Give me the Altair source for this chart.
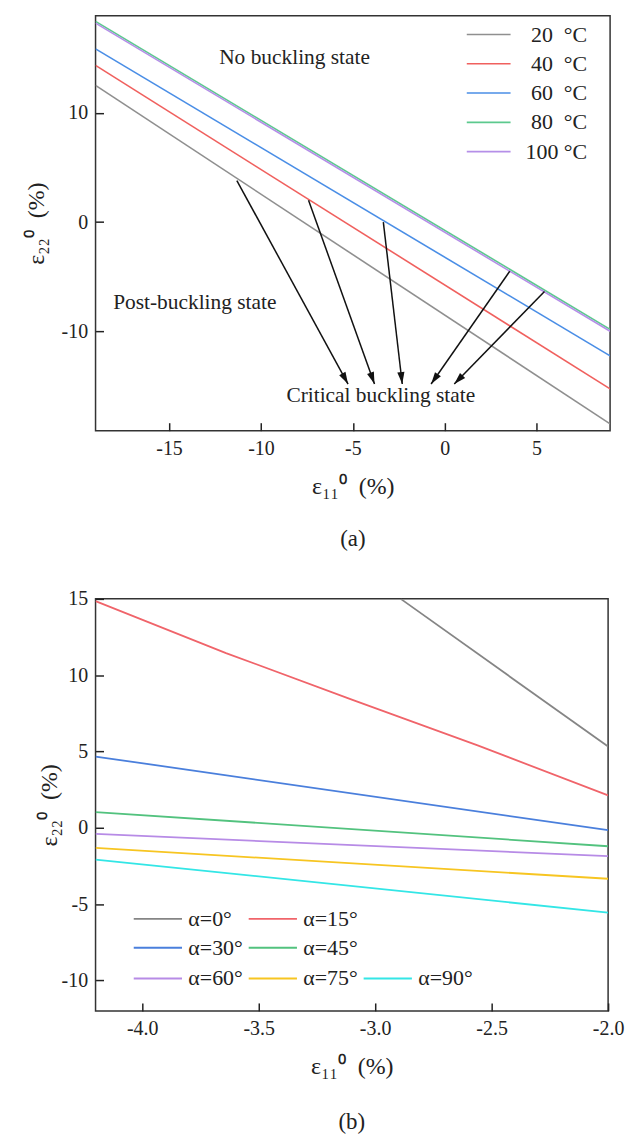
import math
import altair as alt
import pandas as pd

FONT = "Liberation Serif"
INK = "#222222"

# ---------------- panel (a): temperature ----------------
temp_labels = ["20\u00a0\u00a0°C", "40\u00a0\u00a0°C", "60\u00a0\u00a0°C", "80\u00a0\u00a0°C", "100\u00a0°C"]
temp_colors = ["#8f8f8f", "#f0605e", "#4a8ee6", "#5cc98e", "#b58fe8"]
eps11_a = [-19.0, 9.0]
eps22_t20 = [12.52, -18.48]
eps22_t40 = [14.34, -15.28]
eps22_t60 = [15.86, -12.25]
eps22_t80 = [18.38, -9.82]
eps22_t100 = [18.22, -10.0]

# arrows from each curve to the "critical" label
arrow_x0 = [-11.31, -7.41, -3.34, 3.54, 5.43]
arrow_y0 = [3.8, 2.0, 0.0, -4.5, -6.35]
arrow_x1 = [-5.26, -3.82, -2.31, -0.74, 0.52]
arrow_y1 = [-14.83, -14.83, -14.83, -14.83, -14.83]

state_text = ["No buckling state", "Post-buckling state", "Critical buckling state"]
state_x = [-8.17, -13.6, -3.48]
state_y = [14.98, -7.38, -15.9]

XA_DOM = [-19.0, 9.0]
YA_DOM = [-19.1, 18.9]
WA, HA = 517, 417

# ---------------- panel (b): ply angle ----------------
alpha_labels = ["α=0°", "α=15°", "α=30°", "α=45°", "α=60°", "α=75°", "α=90°"]
alpha_colors = ["#858585", "#f0646a", "#4a7fdc", "#52c27e", "#b78be6", "#f7c521", "#33e6e6"]
a0_x, a0_y = [-2.89, -2.0], [15.0, 5.32]
a15_x, a15_y = [-4.2, -3.64, -3.1, -2.56, -2.0], [14.85, 11.45, 8.4, 5.4, 2.12]
a30_x, a30_y = [-4.2, -2.0], [4.67, -0.16]
a45_x, a45_y = [-4.2, -2.0], [1.03, -1.21]
a60_x, a60_y = [-4.2, -2.0], [-0.4, -1.86]
a75_x, a75_y = [-4.2, -2.0], [-1.32, -3.34]
a90_x, a90_y = [-4.2, -2.0], [-2.08, -5.56]

XB_DOM = [-4.2, -2.0]
YB_DOM = [-12.0, 15.0]
WB, HB = 515, 414

# ---------------- tables ----------------
rows = []
for lab, ys in zip(temp_labels, [eps22_t20, eps22_t40, eps22_t60, eps22_t80, eps22_t100]):
    for i, (x, y) in enumerate(zip(eps11_a, ys)):
        rows.append({"series": lab, "x": x, "y": y, "i": i})
temp_df = pd.DataFrame(rows)

sx = WA / (XA_DOM[1] - XA_DOM[0])
sy = HA / (YA_DOM[1] - YA_DOM[0])
arrows = []
for x0, y0, x1, y1 in zip(arrow_x0, arrow_y0, arrow_x1, arrow_y1):
    dx = (x1 - x0) * sx
    dy = -(y1 - y0) * sy
    ang = math.degrees(math.atan2(dx, -dy)) % 360
    arrows.append({"x0": x0, "y0": y0, "x1": x1, "y1": y1, "angle": ang})
arrow_df = pd.DataFrame(arrows)
state_df = pd.DataFrame({"text": state_text, "x": state_x, "y": state_y})

b_series = [
    (a0_x, a0_y), (a15_x, a15_y), (a30_x, a30_y), (a45_x, a45_y),
    (a60_x, a60_y), (a75_x, a75_y), (a90_x, a90_y),
]
rows = []
for lab, (xs, ys) in zip(alpha_labels, b_series):
    for i, (x, y) in enumerate(zip(xs, ys)):
        rows.append({"series": lab, "x": x, "y": y, "i": i})
alpha_df = pd.DataFrame(rows)
alpha_df_1 = alpha_df[alpha_df["series"].isin(alpha_labels[:4])]
alpha_df_2 = alpha_df[alpha_df["series"].isin(alpha_labels[4:])]

HEAD = "M0,0L-0.6,2L0.6,2Z"
LEG_SYMBOL = "M-1,0L3,0"


def hyphen_label(fmt):
    return (
        f"datum.value < 0 ? '-' + format(-datum.value, '{fmt}') : format(datum.value, '{fmt}')"
    )


def make_axis(values, fmt, title, title_pad):
    return alt.Axis(values=values, labelExpr=hyphen_label(fmt), title=title, titlePadding=title_pad)


X_TITLE = "ε₁₁⁰\u00a0\u00a0(%)"
Y_TITLE = "ε₂₂⁰\u00a0\u00a0(%)"

# ---------------- panel (a) ----------------
xa = alt.X("x:Q", scale=alt.Scale(domain=XA_DOM, nice=False, zero=False),
           axis=make_axis([-15, -10, -5, 0, 5], "d", X_TITLE, 16))
ya = alt.Y("y:Q", scale=alt.Scale(domain=YA_DOM, nice=False, zero=False),
           axis=make_axis([-10, 0, 10], "d", Y_TITLE, 13))

temp_lines = alt.Chart(temp_df).mark_line(strokeWidth=1.6, clip=True).encode(
    x=xa, y=ya, order="i:Q",
    color=alt.Color(
        "series:N",
        scale=alt.Scale(domain=temp_labels, range=temp_colors),
        legend=alt.Legend(
            orient="none", legendX=372, legendY=7, title=None, padding=0,
            symbolType=LEG_SYMBOL, symbolSize=484, symbolStrokeWidth=1.6,
            labelFont=FONT, labelFontSize=22, labelColor=INK,
            labelAlign="right", labelOffset=98, rowPadding=6.4,
        ),
    ),
)

shafts = alt.Chart(arrow_df).mark_rule(color="#111111", strokeWidth=1.5).encode(
    x="x0:Q", y="y0:Q", x2="x1:Q", y2="y1:Q"
)
heads = alt.Chart(arrow_df).mark_point(
    shape=HEAD, filled=True, size=144, color="#111111", opacity=1, strokeWidth=0
).encode(x="x1:Q", y="y1:Q", angle=alt.Angle("angle:Q", scale=None))

states = alt.Chart(state_df).mark_text(font=FONT, fontSize=21.5, color=INK).encode(
    x="x:Q", y="y:Q", text="text:N"
)

panel_a = alt.layer(temp_lines, shafts, heads, states).properties(
    width=WA, height=HA,
    title=alt.TitleParams("(a)", orient="bottom", anchor="middle", font=FONT,
                          fontSize=23, fontWeight="normal", color=INK, offset=30),
)

# ---------------- panel (b) ----------------
xb = alt.X("x:Q", scale=alt.Scale(domain=XB_DOM, nice=False, zero=False),
           axis=make_axis([-4.0, -3.5, -3.0, -2.5, -2.0], ".1f", X_TITLE, 16))
yb = alt.Y("y:Q", scale=alt.Scale(domain=YB_DOM, nice=False, zero=False),
           axis=make_axis([-10, -5, 0, 5, 10, 15], "d", Y_TITLE, 0))


def alpha_legend(lx, ly, cols):
    return alt.Legend(
        orient="none", legendX=lx, legendY=ly, title=None, padding=0,
        columns=cols, direction="horizontal",
        symbolType=LEG_SYMBOL, symbolSize=588, symbolStrokeWidth=1.8,
        labelFont=FONT, labelFontSize=22, labelColor=INK,
        labelOffset=29.25, rowPadding=4.25, columnPadding=1.5,
    )


lines_b1 = alt.Chart(alpha_df_1).mark_line(strokeWidth=1.8, clip=True).encode(
    x=xb, y=yb, order="i:Q",
    color=alt.Color("series:N",
                    scale=alt.Scale(domain=alpha_labels[:4], range=alpha_colors[:4]),
                    legend=alpha_legend(37, 307.8, 2)),
)
lines_b2 = alt.Chart(alpha_df_2).mark_line(strokeWidth=1.8, clip=True).encode(
    x=xb, y=yb, order="i:Q",
    color=alt.Color("series:N",
                    scale=alt.Scale(domain=alpha_labels[4:], range=alpha_colors[4:]),
                    legend=alpha_legend(37, 367.7, 3)),
)

panel_b = alt.layer(lines_b1, lines_b2).resolve_scale(color="independent").properties(
    width=WB, height=HB,
    title=alt.TitleParams("(b)", orient="bottom", anchor="middle", font=FONT,
                          fontSize=23, fontWeight="normal", color=INK, offset=33),
)

chart = (
    alt.vconcat(panel_a, panel_b, spacing=36)
    .properties(padding={"left": 23, "top": 12, "right": 5, "bottom": 5})
    .configure(background="white")
    .configure_view(stroke="#333333", strokeWidth=1.5)
    .configure_axis(
        labelFont=FONT, labelFontSize=20, labelColor=INK,
        titleFont=FONT, titleFontSize=24, titleFontWeight="normal", titleColor=INK,
        tickColor="#222222", tickWidth=1.5, tickSize=8, offset=-8,
        domain=False, grid=False, labelFlush=False, labelOverlap=False, labelPadding=8,
    )
)

chart.save("out.html", embed_options={"renderer": "svg", "actions": False})
